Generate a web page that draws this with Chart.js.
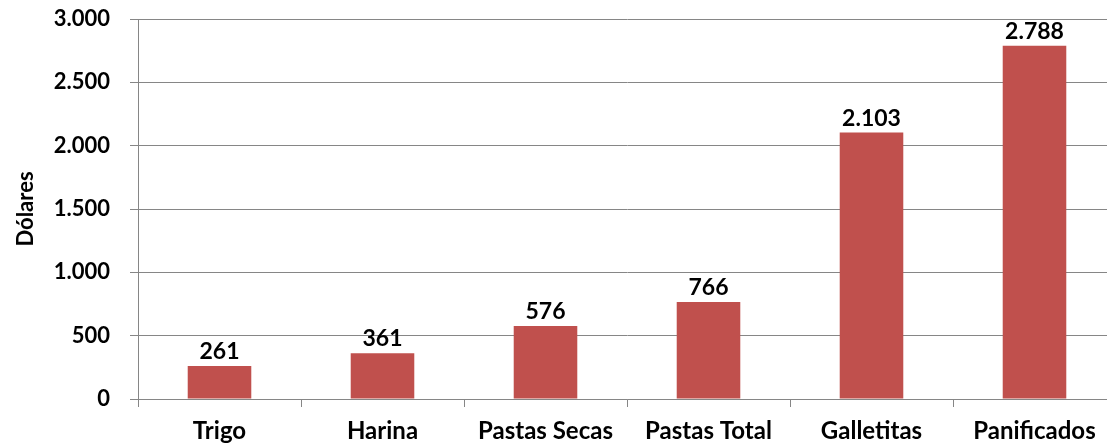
<!DOCTYPE html>
<html>
<head>
<meta charset="utf-8">
<script src="https://cdn.jsdelivr.net/npm/chart.js@4"></script>
<style>
    html, body { margin: 0; padding: 0; background: #fff; overflow: hidden; }
    #wrap { width: 1107px; height: 446px; overflow: hidden; }
</style>
</head>
<body>
<div id="wrap"><canvas id="chart" width="1116" height="446"></canvas></div>
<script>
const categories = ['Trigo', 'Harina', 'Pastas Secas', 'Pastas Total', 'Galletitas', 'Panificados'];
const valores = [261, 361, 576, 766, 2103, 2788];
const yMin = 0;
const yMax = 3000;
const yStep = 500;

const fuente = 'Lato, "Open Sans", sans-serif';

// formato con punto de miles
function miles(v) {
    return String(Math.round(v)).replace(/\B(?=(\d{3})+(?!\d))/g, '.');
}

// etiquetas encima de las barras
const etiquetas = {
    id: 'etiquetas',
    afterDatasetsDraw(chart) {
        const ctx = chart.ctx;
        const meta = chart.getDatasetMeta(0);
        ctx.save();
        ctx.font = 'bold 23px ' + fuente;
        ctx.fillStyle = '#000';
        ctx.textAlign = 'center';
        ctx.textBaseline = 'bottom';
        meta.data.forEach((bar, i) => {
            ctx.fillText(miles(valores[i]), bar.x, bar.y - 3);
        });
        ctx.restore();
    }
};

const ctx = document.getElementById('chart').getContext('2d');
new Chart(ctx, {
    type: 'bar',
    data: {
        labels: categories,
        datasets: [{
            label: 'Dólares',
            data: valores,
            backgroundColor: '#C0504D',
            borderWidth: 0,
            barPercentage: 0.39,
            categoryPercentage: 1.0
        }]
    },
    options: {
        responsive: false,
        animation: false,
        layout: { padding: 0 },
        plugins: {
            legend: { display: false },
            tooltip: { enabled: false }
        },
        scales: {
            x: {
                grid: {
                    offset: true,
                    drawOnChartArea: false,
                    drawTicks: true,
                    tickLength: 8,
                    color: '#868686'
                },
                border: { color: '#868686', width: 1 },
                ticks: {
                    color: '#000',
                    padding: 10,
                    font: { family: fuente, weight: 'bold', size: 24 },
                    maxRotation: 0,
                    autoSkip: false
                },
                afterFit: scale => { scale.height = 47; }
            },
            y: {
                min: yMin,
                max: yMax,
                grid: {
                    color: '#868686',
                    tickLength: 8,
                    lineWidth: 1
                },
                border: { color: '#868686', width: 1 },
                ticks: {
                    stepSize: yStep,
                    color: '#000',
                    padding: 20,
                    font: { family: fuente, weight: 'bold', size: 22 },
                    callback: v => miles(v)
                },
                title: {
                    display: true,
                    text: 'Dólares',
                    color: '#000',
                    padding: { top: 13, bottom: 0 },
                    font: { family: fuente, weight: 'bold', size: 22 }
                },
                afterFit: scale => {
                    scale.width = 138;
                    scale.paddingTop = 19;
                    scale.paddingBottom = 13;
                }
            }
        }
    },
    plugins: [etiquetas]
});
</script>
</body>
</html>
